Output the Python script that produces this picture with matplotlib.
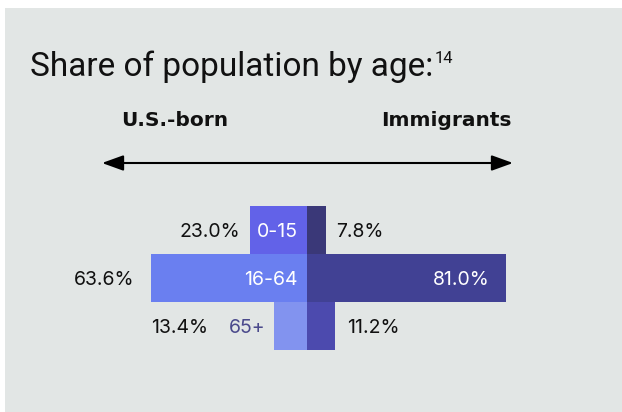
import matplotlib
matplotlib.use("Agg")
import matplotlib.pyplot as plt
from matplotlib.patches import Rectangle, FancyArrowPatch

# data
age_groups = ["0-15", "16-64", "65+"]
us_born = [23.0, 63.6, 13.4]
immigrants = [7.8, 81.0, 11.2]

# colours
bg = "#e2e6e5"
us_colors = ["#6262e8", "#6a7ff0", "#8293ef"]
imm_colors = ["#3a3878", "#414194", "#4c4aae"]
dark_label = "#4b4a8c"

W, H = 622, 412
fig = plt.figure(figsize=(W / 100, H / 100), dpi=100, facecolor="white")

# grey panel
fig.patches.append(Rectangle((5 / W, 0), 1, 1 - 8 / H, transform=fig.transFigure,
                             facecolor=bg, edgecolor="none", zorder=-10))

font = "Inter"

# title with superscript note
title = fig.text(30 / W, 1 - 76 / H, "Share of population by age:", fontsize=24,
                 family="Roboto", color="#111111", va="baseline", ha="left")
fig.canvas.draw()
bb = title.get_window_extent()
fig.text((bb.x1 + 1) / W, 1 - 63 / H, "14", fontsize=12, family="Roboto",
         color="#111111", va="baseline", ha="left")

# column headers
fig.text(121 / W, 1 - 126 / H, "U.S.-born", fontsize=14.5, weight="bold",
         family="DejaVu Sans", va="baseline", ha="left", color="#111111")
fig.text(512 / W, 1 - 126 / H, "Immigrants", fontsize=14.5, weight="bold",
         family="DejaVu Sans", va="baseline", ha="right", color="#111111")

# double arrow
fig.add_artist(FancyArrowPatch(
    (102 / W, 1 - 163 / H), (513 / W, 1 - 163 / H), transform=fig.transFigure,
    arrowstyle="<|-|>,head_length=13,head_width=4.7", mutation_scale=1,
    color="black", lw=1.5, shrinkA=0, shrinkB=0))

# bars axes: 2.46 px per percent, centre at x=307
px = 2.46
x0, x1 = -70, 90
left_px = 307 + x0 * px
ax = fig.add_axes([left_px / W, (H - 350) / H, (x1 - x0) * px / W, 144 / H])
ax.set_xlim(x0, x1)
ax.set_ylim(len(age_groups) - 0.5, -0.5)
ax.axis("off")

ypos = range(len(age_groups))
ax.barh(ypos, [-v for v in us_born], height=1.0, color=us_colors, linewidth=0)
ax.barh(ypos, immigrants, height=1.0, color=imm_colors, linewidth=0)

fs = 14
left_gap = [-10, -16, -66]
right_gap = [10, 0, 13]
dy = -2
for i, (g, u, m) in enumerate(zip(age_groups, us_born, immigrants)):
    ax.annotate(f"{u:.1f}%", (-u, i), xytext=(left_gap[i], dy), textcoords="offset pixels",
                ha="right", va="center", fontsize=fs, family=font, color="#111111")
    if u * px > 40:
        ax.annotate(g, (0, i), xytext=(-9, dy), textcoords="offset pixels",
                    ha="right", va="center", fontsize=fs, family=font, color="white")
    else:
        ax.annotate(g, (-u, i), xytext=(-9, dy), textcoords="offset pixels",
                    ha="right", va="center", fontsize=fs, family=font, color=dark_label)
    if m * px > 60:
        ax.annotate(f"{m:.1f}%", (m, i), xytext=(-17, dy), textcoords="offset pixels",
                    ha="right", va="center", fontsize=fs, family=font, color="white")
    else:
        ax.annotate(f"{m:.1f}%", (m, i), xytext=(right_gap[i], dy), textcoords="offset pixels",
                    ha="left", va="center", fontsize=fs, family=font, color="#111111")

fig.savefig("out.png", dpi=100, facecolor="white")
